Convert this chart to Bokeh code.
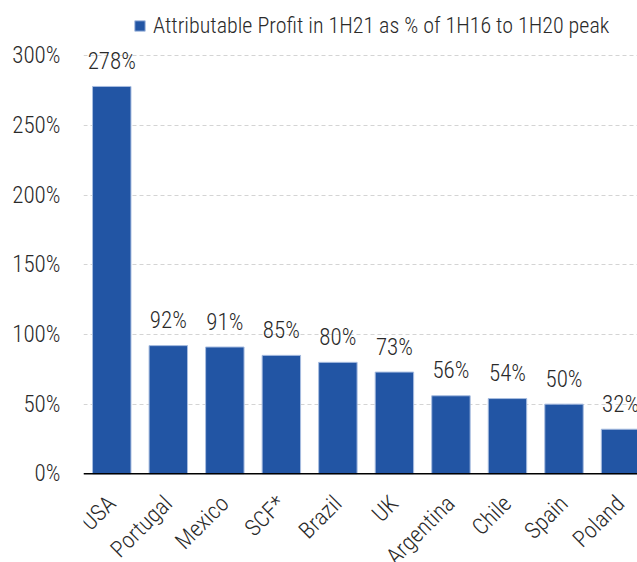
from math import pi
from bokeh.plotting import figure
from bokeh.models import (ColumnDataSource, FixedTicker, PrintfTickFormatter,
                          Legend, LegendItem, Range1d, Span)
from bokeh.embed import file_html
from bokeh.resources import INLINE
from bokeh.core.properties import value

# ---- data ----
countries = ["USA", "Portugal", "Mexico", "SCF*", "Brazil", "UK",
             "Argentina", "Chile", "Spain", "Poland"]
profit_pct = [278, 92, 91, 85, 80, 73, 56, 54, 50, 32]
y_ticks = [0, 50, 100, 150, 200, 250, 300]
series_name = "Attributable Profit in 1H21 as % of 1H16 to 1H20 peak"

FONT = "Roboto Condensed Light, Roboto Condensed, Liberation Sans Narrow, sans-serif"
TXT = "#2a2a2a"
BAR = "#2255A4"

xs = list(range(len(countries)))
src = ColumnDataSource(dict(x=xs, y=profit_pct,
                            lab=[f"{v}%" for v in profit_pct],
                            name=countries, zero=[0] * len(xs)))

p = figure(width=637, height=562, output_backend="svg", toolbar_location=None,
           x_axis_location=None,
           x_range=Range1d(-0.5, 9.30), y_range=Range1d(-63.66, 339.7),
           min_border_left=83, min_border_right=0, min_border_top=0,
           min_border_bottom=0)
p.outline_line_color = None
p.background_fill_color = "white"
p.border_fill_color = "white"

# grid
p.xgrid.grid_line_color = None
p.ygrid.ticker = FixedTicker(ticks=y_ticks)
p.ygrid.grid_line_color = "#D4D4D4"
p.ygrid.grid_line_dash = "4 3"
p.ygrid.grid_line_width = 1

bars = p.vbar(x="x", top="y", width=0.68, source=src, fill_color=BAR,
              line_color="#A8BDE0", line_width=1)
p.text(x="x", y="y", text="lab", source=src, text_align="center",
       text_baseline="alphabetic", y_offset=-25, text_font=value(FONT),
       text_font_size="23px", text_color=TXT)

# category axis line and labels
p.add_layout(Span(location=0, dimension="width", line_color="black",
                  line_width=1.5))
p.text(x="x", y="zero", text="name", source=src, angle=pi / 4,
       text_align="right", text_baseline="middle", y_offset=26,
       text_font=value(FONT), text_font_size="23px", text_color=TXT)

# y axis
p.yaxis.ticker = FixedTicker(ticks=y_ticks)
p.yaxis.formatter = PrintfTickFormatter(format="%d%%")
p.yaxis.axis_line_color = None
p.yaxis.major_tick_line_color = None
p.yaxis.minor_tick_line_color = None
p.yaxis.major_tick_out = 0
p.yaxis.major_tick_in = 0
p.yaxis.major_label_standoff = 23
p.yaxis.major_label_text_font = FONT
p.yaxis.major_label_text_font_size = "23px"
p.yaxis.major_label_text_color = TXT

legend = Legend(items=[LegendItem(label=series_name, renderers=[bars])],
                location=(50, 524.5), orientation="horizontal",
                background_fill_alpha=0, border_line_color=None,
                padding=0, margin=0, spacing=0,
                glyph_width=13, glyph_height=13, label_standoff=7,
                label_text_font=FONT, label_text_font_size="22px",
                label_text_color=TXT)
p.add_layout(legend, "center")

open("out.html", "w").write(file_html(p, INLINE))
